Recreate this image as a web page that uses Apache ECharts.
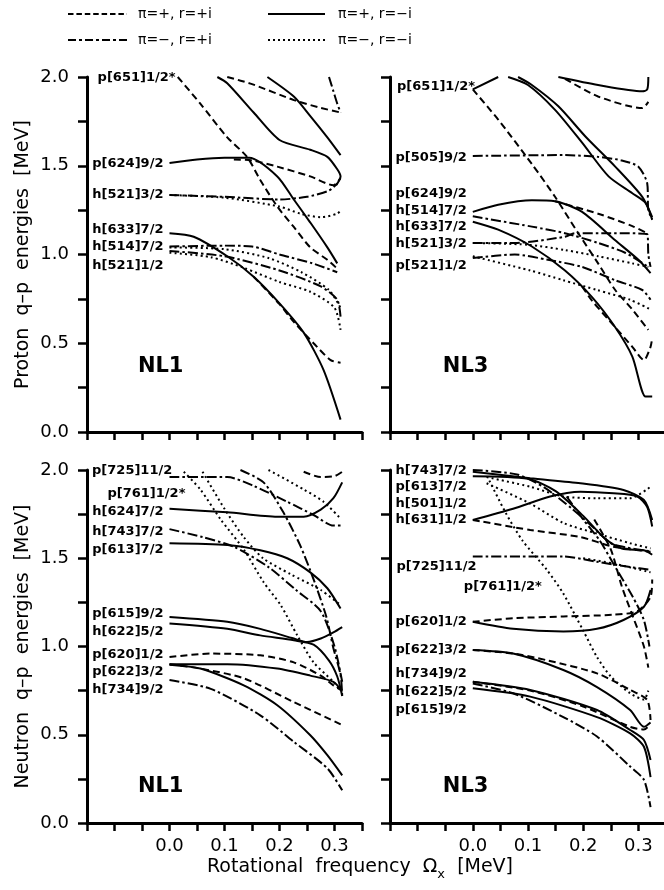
<!DOCTYPE html>
<html><head><meta charset="utf-8">
<script src="https://cdn.jsdelivr.net/npm/echarts@6/dist/echarts.min.js"></script>
<style>html,body{margin:0;padding:0;background:#fff}#c{width:664px;height:890px}</style>
</head><body><div id="c"></div>
<script>
// ---------- legend (parity / signature) ----------
const legendNames = ['π=+, r=+i', 'π=+, r=−i', 'π=−, r=+i', 'π=−, r=−i'];
const legendKinds = ['pp', 'pm', 'mp', 'mm'];

// ---------- panel 0 : Proton NL1 ----------
const P1_651  = [[0.015,2.0],[0.056,1.85],[0.105,1.66],[0.141,1.55],[0.165,1.42],[0.196,1.27],[0.226,1.155],[0.256,1.04],[0.287,0.97],[0.305,0.92]];
const P1_624s = [[0,1.515],[0.05,1.535],[0.1,1.545],[0.145,1.545],[0.196,1.44],[0.226,1.31],[0.256,1.18],[0.287,1.04],[0.305,0.95]];
const P1_624d = [[0.117,1.535],[0.15,1.53],[0.196,1.495],[0.256,1.44],[0.298,1.39],[0.311,1.43]];
const P1_521a = [[0,1.335],[0.1,1.325],[0.2,1.31],[0.25,1.325],[0.29,1.36],[0.305,1.40]];
const P1_521b = [[0,1.335],[0.1,1.32],[0.2,1.27],[0.238,1.23],[0.275,1.21],[0.305,1.23],[0.311,1.25]];
const P1_topD = [[0.105,2.0],[0.15,1.96],[0.226,1.87],[0.27,1.83],[0.311,1.80]];
const P1_topS = [[0.087,2.0],[0.105,1.965],[0.153,1.80],[0.2,1.645],[0.256,1.59],[0.287,1.55],[0.305,1.48],[0.311,1.44],[0.303,1.39]];
const P1_topS2= [[0.178,2.0],[0.226,1.89],[0.256,1.78],[0.287,1.66],[0.311,1.56]];
const P1_topDD= [[0.29,2.0],[0.298,1.92],[0.305,1.85],[0.311,1.80]];
const P1_633s = [[0,1.12],[0.044,1.10],[0.105,0.99],[0.153,0.875],[0.2,0.725],[0.244,0.56],[0.28,0.35],[0.311,0.07]];
const P1_633d = [[0.153,0.875],[0.2,0.72],[0.226,0.62],[0.262,0.50],[0.293,0.405],[0.311,0.39]];
const P1_514a = [[0,1.045],[0.1,1.05],[0.15,1.045],[0.2,1.0],[0.26,0.95],[0.305,0.90]];
const P1_514b = [[0,1.04],[0.1,1.03],[0.18,0.98],[0.24,0.90],[0.29,0.80],[0.311,0.70]];
const P1_521c = [[0,1.02],[0.1,0.99],[0.2,0.91],[0.275,0.82],[0.305,0.745],[0.311,0.65]];
const P1_521d = [[0,1.01],[0.075,0.985],[0.135,0.925],[0.2,0.845],[0.256,0.79],[0.3,0.70],[0.311,0.575]];

// ---------- panel 1 : Proton NL3 ----------
const P3_651  = [[0,1.93],[0.046,1.76],[0.107,1.51],[0.149,1.325],[0.191,1.12],[0.227,0.95],[0.258,0.80],[0.289,0.69],[0.318,0.575]];
const P3_651b = [[0,1.93],[0.046,2.0]];
const P3_s1   = [[0.064,2.0],[0.1,1.955],[0.149,1.815],[0.198,1.63],[0.246,1.44],[0.289,1.345],[0.313,1.29],[0.325,1.195]];
const P3_s2   = [[0.082,2.0],[0.107,1.955],[0.155,1.835],[0.204,1.665],[0.258,1.495],[0.307,1.325],[0.325,1.21]];
const P3_topS = [[0.155,2.0],[0.227,1.955],[0.307,1.92],[0.316,1.93],[0.318,2.0]];
const P3_topD = [[0.167,1.99],[0.227,1.89],[0.307,1.825],[0.318,1.86]];
const P3_505  = [[0,1.555],[0.167,1.56],[0.227,1.55],[0.27,1.53],[0.30,1.495],[0.316,1.40],[0.318,1.25],[0.325,1.20]];
const P3_624s = [[0,1.24],[0.046,1.28],[0.107,1.305],[0.149,1.30],[0.198,1.24],[0.258,1.08],[0.30,0.97],[0.322,0.895]];
const P3_624d = [[0.149,1.30],[0.227,1.23],[0.289,1.16],[0.316,1.12]];
const P3_514  = [[0,1.215],[0.107,1.157],[0.167,1.12],[0.227,1.065],[0.276,1.01],[0.318,0.93]];
const P3_633s = [[0,1.185],[0.046,1.14],[0.107,1.045],[0.167,0.91],[0.216,0.76],[0.258,0.59],[0.289,0.425],[0.313,0.2],[0.325,0.2]];
const P3_633d = [[0.198,0.82],[0.216,0.74],[0.258,0.59],[0.289,0.48],[0.31,0.405],[0.322,0.48],[0.325,0.53]];
const P3_521a = [[0,1.065],[0.076,1.065],[0.167,1.10],[0.185,1.12],[0.25,1.12],[0.316,1.115],[0.318,1.0],[0.322,0.93]];
const P3_521b = [[0,1.065],[0.1,1.055],[0.167,1.025],[0.227,0.99],[0.289,0.95],[0.318,0.93]];
const P3_521c = [[0,0.98],[0.076,1.0],[0.136,0.97],[0.198,0.93],[0.258,0.855],[0.307,0.80],[0.322,0.745]];
const P3_521d = [[0,0.99],[0.104,0.91],[0.164,0.855],[0.225,0.80],[0.285,0.745],[0.322,0.69]];

// ---------- panel 2 : Neutron NL1 ----------
const N1_624  = [[0,1.78],[0.105,1.76],[0.196,1.735],[0.244,1.735],[0.275,1.775],[0.298,1.84],[0.314,1.93]];
const N1_725  = [[0,1.96],[0.105,1.96],[0.153,1.91],[0.214,1.82],[0.262,1.745],[0.298,1.685],[0.314,1.685]];
const N1_topD = [[0.244,1.99],[0.275,1.96],[0.30,1.965],[0.314,1.99]];
const N1_ddA  = [[0.129,2.0],[0.171,1.93],[0.207,1.76],[0.238,1.57],[0.262,1.38],[0.285,1.17],[0.298,0.99],[0.311,0.84],[0.314,0.72]];
const N1_743  = [[0,1.665],[0.06,1.62],[0.117,1.565],[0.18,1.45],[0.23,1.32],[0.275,1.2],[0.3,1.0],[0.314,0.80]];
const N1_613  = [[0,1.585],[0.105,1.575],[0.165,1.545],[0.214,1.50],[0.256,1.42],[0.287,1.33],[0.311,1.215]];
const N1_761  = [[0.026,1.99],[0.056,1.89],[0.093,1.72],[0.135,1.55],[0.171,1.365],[0.202,1.235],[0.232,1.065],[0.262,0.91],[0.298,0.80],[0.31,0.75]];
const N1_dotB = [[0.06,1.99],[0.1,1.78],[0.135,1.62],[0.17,1.50],[0.22,1.41],[0.275,1.32],[0.311,1.235]];
const N1_dotC = [[0.18,2.0],[0.244,1.89],[0.28,1.82],[0.311,1.725]];
const N1_615  = [[0,1.167],[0.105,1.14],[0.165,1.10],[0.226,1.045],[0.25,1.025],[0.275,1.045],[0.298,1.08],[0.314,1.11]];
const N1_622a = [[0,1.13],[0.105,1.10],[0.165,1.063],[0.226,1.035],[0.262,1.01],[0.29,0.92],[0.305,0.83],[0.314,0.72]];
const N1_620d = [[0,0.94],[0.075,0.96],[0.165,0.95],[0.226,0.91],[0.275,0.835],[0.298,0.78],[0.314,0.75]];
const N1_620s = [[0,0.90],[0.105,0.90],[0.196,0.875],[0.256,0.835],[0.298,0.80],[0.314,0.745]];
const N1_622s = [[0,0.897],[0.056,0.875],[0.135,0.78],[0.196,0.667],[0.256,0.497],[0.287,0.384],[0.314,0.27]];
const N1_622d = [[0,0.90],[0.056,0.875],[0.135,0.82],[0.226,0.685],[0.314,0.555]];
const N1_734  = [[0,0.81],[0.075,0.76],[0.165,0.61],[0.226,0.46],[0.287,0.31],[0.314,0.185]];

// ---------- panel 3 : Neutron NL3 ----------
const N3_topS = [[0,1.99],[0.104,1.953],[0.195,1.925],[0.273,1.887],[0.31,1.83],[0.325,1.717]];
const N3_613  = [[0,1.965],[0.1,1.95],[0.15,1.88],[0.2,1.74],[0.24,1.61],[0.27,1.555],[0.31,1.545],[0.325,1.52]];
const N3_743  = [[0,2.0],[0.08,1.975],[0.13,1.9],[0.18,1.78],[0.22,1.67],[0.25,1.585],[0.28,1.56],[0.32,1.54]];
const N3_631s = [[0,1.717],[0.073,1.78],[0.14,1.85],[0.195,1.877],[0.255,1.868],[0.298,1.85],[0.316,1.79],[0.325,1.68]];
const N3_631d = [[0,1.717],[0.104,1.66],[0.195,1.62],[0.255,1.565],[0.322,1.537]];
const N3_501  = [[0.025,1.96],[0.104,1.905],[0.164,1.85],[0.225,1.84],[0.285,1.84],[0.322,1.905]];
const N3_dotG = [[0.025,1.925],[0.104,1.81],[0.164,1.70],[0.225,1.64],[0.285,1.585],[0.322,1.556]];
const N3_761  = [[0.03,1.94],[0.06,1.755],[0.09,1.60],[0.134,1.435],[0.164,1.30],[0.2,1.09],[0.225,0.94],[0.25,0.83],[0.285,0.735],[0.31,0.70],[0.318,0.75]];
const N3_725  = [[0,1.51],[0.104,1.51],[0.164,1.51],[0.225,1.48],[0.285,1.45],[0.322,1.435]];
const N3_725b = [[0.2,1.50],[0.255,1.47],[0.322,1.42]];
const N3_ddS  = [[0.17,1.85],[0.2,1.72],[0.23,1.60],[0.26,1.44],[0.29,1.28],[0.31,1.15],[0.32,1.0]];
const N3_dS   = [[0.22,1.72],[0.25,1.55],[0.27,1.34],[0.29,1.17],[0.31,1.0],[0.318,0.88]];
const N3_620d = [[0,1.14],[0.073,1.16],[0.164,1.17],[0.255,1.18],[0.298,1.20],[0.322,1.28],[0.325,1.38]];
const N3_620s = [[0,1.14],[0.073,1.10],[0.164,1.085],[0.225,1.10],[0.273,1.15],[0.31,1.225],[0.322,1.32]];
const N3_622s = [[0,0.98],[0.073,0.96],[0.164,0.867],[0.225,0.77],[0.285,0.64],[0.31,0.545],[0.322,0.57]];
const N3_622d = [[0,0.98],[0.073,0.96],[0.133,0.923],[0.225,0.848],[0.285,0.754],[0.316,0.697],[0.322,0.584]];
const N3_s1   = [[0,0.80],[0.104,0.754],[0.225,0.64],[0.285,0.527],[0.31,0.47],[0.322,0.357]];
const N3_s1d  = [[0,0.80],[0.104,0.75],[0.2,0.66],[0.285,0.545],[0.31,0.53],[0.322,0.56]];
const N3_s2   = [[0,0.763],[0.104,0.716],[0.225,0.60],[0.285,0.508],[0.31,0.432],[0.322,0.26]];
const N3_734  = [[0,0.79],[0.073,0.735],[0.164,0.60],[0.225,0.49],[0.285,0.32],[0.31,0.245],[0.322,0.09]];

// curves: [panel, kind, data]
const curves = [
  [0,'pp',P1_651],[0,'pm',P1_624s],[0,'pp',P1_624d],[0,'mp',P1_521a],[0,'mm',P1_521b],
  [0,'pp',P1_topD],[0,'pm',P1_topS],[0,'pm',P1_topS2],[0,'mp',P1_topDD],[0,'pm',P1_633s],
  [0,'pp',P1_633d],[0,'mp',P1_514a],[0,'mm',P1_514b],[0,'mp',P1_521c],[0,'mm',P1_521d],
  [1,'pp',P3_651],[1,'pm',P3_651b],[1,'pm',P3_s1],[1,'pm',P3_s2],[1,'pm',P3_topS],[1,'pp',P3_topD],
  [1,'mp',P3_505],[1,'pm',P3_624s],[1,'pp',P3_624d],[1,'mp',P3_514],[1,'pm',P3_633s],[1,'pp',P3_633d],
  [1,'mp',P3_521a],[1,'mm',P3_521b],[1,'mp',P3_521c],[1,'mm',P3_521d],
  [2,'pm',N1_624],[2,'mp',N1_725],[2,'pp',N1_topD],[2,'mp',N1_ddA],[2,'mp',N1_743],[2,'pm',N1_613],
  [2,'mm',N1_761],[2,'mm',N1_dotB],[2,'mm',N1_dotC],[2,'pm',N1_615],[2,'pm',N1_622a],[2,'pp',N1_620d],
  [2,'pm',N1_620s],[2,'pm',N1_622s],[2,'pp',N1_622d],[2,'mp',N1_734],
  [3,'pm',N3_topS],[3,'pm',N3_613],[3,'mp',N3_743],[3,'pm',N3_631s],[3,'pp',N3_631d],[3,'mm',N3_501],
  [3,'mm',N3_dotG],[3,'mm',N3_761],[3,'mp',N3_725],[3,'mm',N3_725b],[3,'mp',N3_ddS],[3,'pp',N3_dS],
  [3,'pp',N3_620d],[3,'pm',N3_620s],[3,'pm',N3_622s],[3,'pp',N3_622d],[3,'pm',N3_s1],[3,'pp',N3_s1d],
  [3,'pm',N3_s2],[3,'mp',N3_734]
];

// level labels: [x, y, text]
const labelsP1 = [[0.011,1.994,'p[651]1/2*'],[-0.011,1.51,'p[624]9/2'],[-0.011,1.335,'h[521]3/2'],
  [-0.011,1.138,'h[633]7/2'],[-0.011,1.044,'h[514]7/2'],[-0.011,0.94,'h[521]1/2']];
const labelsP3 = [[0.004,1.944,'p[651]1/2*'],[-0.011,1.545,'p[505]9/2'],[-0.011,1.345,'p[624]9/2'],
  [-0.011,1.247,'h[514]7/2'],[-0.011,1.157,'h[633]7/2'],[-0.011,1.063,'h[521]3/2'],[-0.011,0.94,'p[521]1/2']];
const labelsN1 = [[0.005,1.998,'p[725]11/2'],[0.029,1.868,'p[761]1/2*'],[-0.011,1.764,'h[624]7/2'],
  [-0.011,1.65,'h[743]7/2'],[-0.011,1.547,'p[613]7/2'],[-0.011,1.188,'p[615]9/2'],[-0.011,1.084,'h[622]5/2'],
  [-0.011,0.952,'p[620]1/2'],[-0.011,0.857,'p[622]3/2'],[-0.011,0.754,'h[734]9/2']];
const labelsN3 = [[-0.011,1.998,'h[743]7/2'],[-0.011,1.905,'p[613]7/2'],[-0.011,1.812,'h[501]1/2'],
  [-0.011,1.717,'h[631]1/2'],[0.007,1.452,'p[725]11/2'],[0.125,1.34,'p[761]1/2*'],[-0.011,1.14,'p[620]1/2'],
  [-0.011,0.98,'p[622]3/2'],[-0.011,0.848,'h[734]9/2'],[-0.011,0.744,'h[622]5/2'],[-0.011,0.64,'p[615]9/2']];
const panelLabels = [labelsP1, labelsP3, labelsN1, labelsN3];
const forceNames = ['NL1','NL3','NL1','NL3'];
const forcePos = [[-0.016,0.37],[-0.013,0.37],[-0.016,0.204],[-0.013,0.204]];
const yTitles = ['Proton  q–p  energies  [MeV]', '', 'Neutron  q–p  energies  [MeV]', ''];

// ---------- rendering ----------
const DASH = { pp:[7,4], pm:'solid', mp:[10,3,2.5,3], mm:[2,3.2] };
const LDASH = { pp:[5.5,2.9], pm:null, mp:[8,3,3,3], mm:[2,3] };
const FONT = 'DejaVu Sans';

const grids = [
  {left:87, top:77, width:275, height:355},
  {left:390, top:77, width:276, height:355},
  {left:87, top:470, width:275, height:353},
  {left:390, top:470, width:276, height:353}
].map(g => Object.assign(g, {outerBoundsMode:'none', containLabel:false}));

function xFmt(v){ const r = Math.round(v*100)/100; if (r < -1e-9) return ''; return Math.abs(r*10 - Math.round(r*10)) < 1e-6 ? r.toFixed(1) : ''; }
function yFmt(v){ return Math.abs(v*2 - Math.round(v*2)) < 1e-6 ? v.toFixed(1) : ''; }

const xAxes = grids.map((g,i) => ({
  type:'value', gridIndex:i, min:-0.15, max:0.35, interval:0.05,
  axisLine:{show:true, onZero:false, lineStyle:{color:'#000', width:3}},
  axisTick:{show:true, length:8, lineStyle:{color:'#000', width:2.5}},
  axisLabel:{show:i>=2, margin:14, fontSize:18, fontFamily:FONT, color:'#000', formatter:xFmt},
  splitLine:{show:false}
}));
const yAxes = grids.map((g,i) => ({
  type:'value', gridIndex:i, min:0, max:2, interval:0.25,
  name: yTitles[i], nameLocation:'middle', nameGap:54, nameMoveOverlap:false,
  nameTextStyle:{fontSize:19, fontFamily:FONT, color:'#000'},
  axisLine:{show:true, onZero:false, lineStyle:{color:'#000', width:3}},
  axisTick:{show:true, length:9, lineStyle:{color:'#000', width:2.5}},
  axisLabel:{show:i%2===0, margin:18, fontSize:18, fontFamily:FONT, color:'#000', formatter:yFmt},
  splitLine:{show:false}
}));

const series = [];
curves.forEach(c => {
  series.push({
    type:'line', xAxisIndex:c[0], yAxisIndex:c[0], data:c[2], name:legendNames[legendKinds.indexOf(c[1])],
    symbol:'none', showSymbol:false, smooth:0.25, silent:true, clip:true, z:2,
    lineStyle:{color:'#000', width:2, type:DASH[c[1]]}
  });
});
panelLabels.forEach((labs,i) => {
  series.push({
    type:'scatter', xAxisIndex:i, yAxisIndex:i, symbolSize:0, silent:true, z:5, clip:false,
    itemStyle:{color:'#000', opacity:1},
    data: labs.map(l => ({value:[l[0], l[1]], name:l[2]})),
    label:{show:true, position:'left', distance:0, formatter:'{b}', fontFamily:FONT, fontWeight:'bold', fontSize:13, color:'#000', opacity:1}
  });
  series.push({
    type:'scatter', xAxisIndex:i, yAxisIndex:i, symbolSize:0, silent:true, z:5, clip:false,
    itemStyle:{color:'#000', opacity:1},
    data:[{value:forcePos[i], name:forceNames[i]}],
    label:{show:true, position:'inside', formatter:'{b}', fontFamily:FONT, fontWeight:'bold', fontSize:21, color:'#000', opacity:1}
  });
});

// legend drawn as graphic
const legX = [[68,127,138],[268,325,338],[68,127,138],[268,325,338]];
const legY = [14,14,40,40];
const graphic = [];
legendKinds.forEach((k,i) => {
  const st = {stroke:'#000', lineWidth:1.8};
  if (LDASH[k]) st.lineDash = LDASH[k];
  graphic.push({type:'line', shape:{x1:legX[i][0], y1:legY[i], x2:legX[i][1], y2:legY[i]}, style:st, silent:true});
  graphic.push({type:'text', x:legX[i][2], y:legY[i], style:{text:legendNames[i], font:'14px "DejaVu Sans"', fill:'#000', verticalAlign:'middle', align:'left'}, silent:true});
});

const chart = echarts.init(document.getElementById('c'), null, {renderer:'canvas'});
chart.setOption({
  backgroundColor:'#fff', animation:false,
  title:{
    text:'{a|Rotational  frequency  Ω}{b|x}{a|  [MeV]}', left:207, top:853, padding:0,
    textStyle:{fontWeight:'normal', rich:{
      a:{fontSize:19, fontFamily:FONT, fontWeight:'normal', color:'#000', lineHeight:28, verticalAlign:'middle'},
      b:{fontSize:13, fontFamily:FONT, fontWeight:'normal', color:'#000', lineHeight:28, verticalAlign:'bottom'}
    }}
  },
  grid:grids, xAxis:xAxes, yAxis:yAxes, series:series, graphic:graphic
});
</script></body></html>
